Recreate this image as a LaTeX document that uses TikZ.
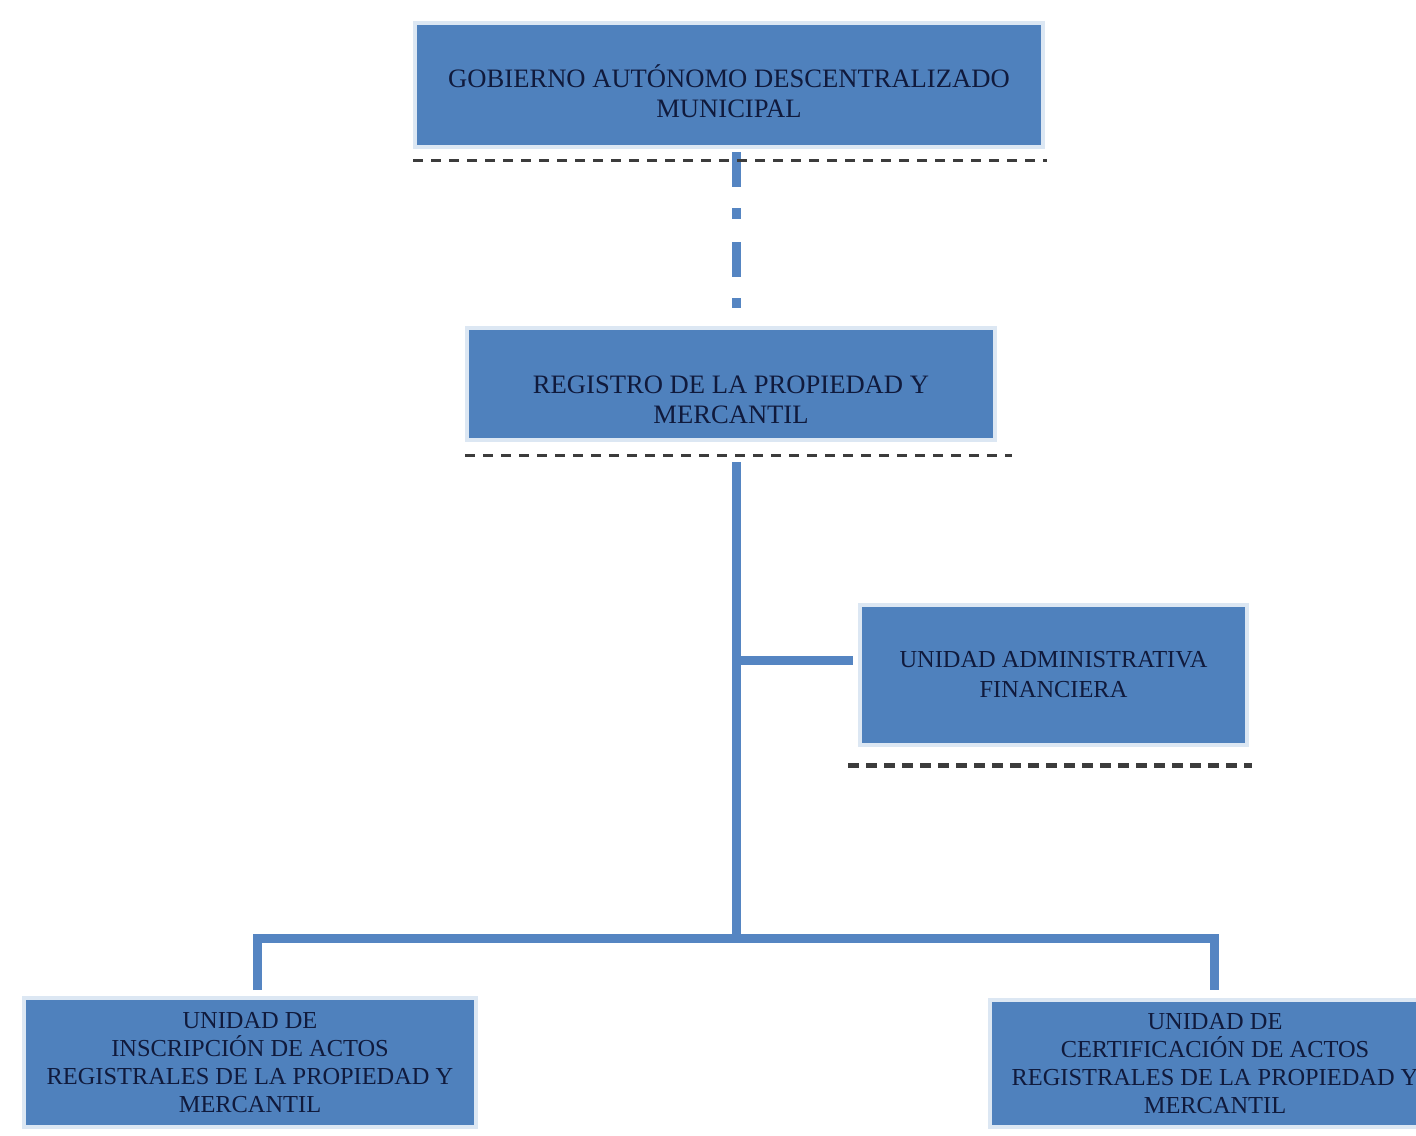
\documentclass[tikz,border=0pt]{standalone}
\usepackage{fontspec}
\setmainfont{Liberation Serif}
\definecolor{boxblue}{HTML}{4F81BD}
\definecolor{lineblue}{HTML}{5585C2}
\definecolor{txtnavy}{HTML}{101A3C}
\definecolor{halo}{HTML}{DCE7F3}
\definecolor{dashgray}{HTML}{3C3C3C}
\tikzset{
  orgbox/.style={rectangle, fill=boxblue, draw=halo, line width=2pt, align=center,
    text=txtnavy, inner sep=0pt},
  bigtext/.style={font=\fontsize{13.3}{15}\selectfont},
  smalltext/.style={font=\fontsize{12.2}{14}\selectfont},
  sepline/.style={draw=dashgray, line width=1.5pt, dash pattern=on 5pt off 4pt},
  septhick/.style={draw=dashgray, line width=2.5pt, dash pattern=on 5.5pt off 3.5pt},
  conn/.style={draw=lineblue, line width=4.5pt},
  dashconn/.style={draw=lineblue, line width=4.5pt, dash pattern=on 17.5pt off 10.5pt on 5.5pt off 11.5pt},
}
\begin{document}
\begin{tikzpicture}[x=0.5pt, y=-0.5pt]
\useasboundingbox (0,0) rectangle (1416,1135);
\begin{scope}
\clip (0,0) rectangle (1416,1135);
\node[orgbox, bigtext, minimum width=314pt, minimum height=62pt] (gad) at (729,85)
  {\rule{0pt}{18pt}GOBIERNO AUTÓNOMO DESCENTRALIZADO\\MUNICIPAL};
\node[orgbox, bigtext, minimum width=264pt, minimum height=56pt] (reg) at (731,384)
  {\rule{0pt}{24.5pt}REGISTRO DE LA PROPIEDAD Y\\MERCANTIL};
\node[orgbox, font=\fontsize{12.2}{15}\selectfont, minimum width=193.5pt, minimum height=70pt] (uaf) at (1053.5,675)
  {UNIDAD ADMINISTRATIVA\\FINANCIERA};
\node[orgbox, smalltext, minimum width=226pt, minimum height=64.5pt] (uins) at (250,1062.5)
  {UNIDAD DE\\INSCRIPCIÓN DE ACTOS\\REGISTRALES DE LA PROPIEDAD Y\\MERCANTIL};
\node[orgbox, smalltext, minimum width=225pt, minimum height=63.5pt] (ucert) at (1215,1063.5)
  {UNIDAD DE\\CERTIFICACIÓN DE ACTOS\\REGISTRALES DE LA PROPIEDAD Y\\MERCANTIL};

\coordinate (trunk) at (736,0);
\coordinate (branch) at (736,660);
\coordinate (busL) at (257,938);
\coordinate (busR) at (1214,938);

% dashed connector between top boxes
\draw[dashconn, shorten <=1.5pt, shorten >=9pt] (gad.south -| trunk) -- (reg.north -| trunk);

% separator lines
\draw[sepline] ([yshift=-5.5pt]gad.south west) -- ([xshift=1pt,yshift=-5.5pt]gad.south east);
\draw[sepline] ([yshift=-6.5pt]reg.south west) -- ([xshift=7.5pt,yshift=-6.5pt]reg.south east);
\draw[septhick] ([xshift=-5pt,yshift=-9pt]uaf.south west) -- ([xshift=1.5pt,yshift=-9pt]uaf.south east);

% solid connectors
\draw[conn, shorten <=10pt] (reg.south -| trunk) -- (trunk |- busL);
\draw[conn, shorten >=2.5pt] (branch) -- (uaf.west |- branch);
\draw[conn, line join=miter, shorten <=3pt, shorten >=4pt] (busL |- uins.north) -- (busL) -- (busR) -- (busR |- ucert.north);
\end{scope}
\end{tikzpicture}
\end{document}
